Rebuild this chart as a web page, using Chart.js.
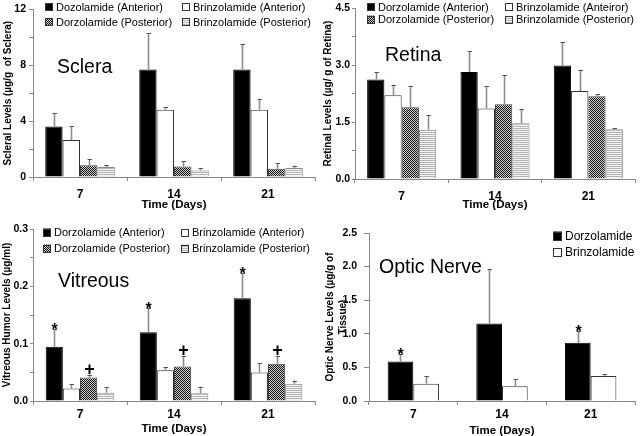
<!DOCTYPE html>
<html><head><meta charset="utf-8">
<script src="https://cdn.jsdelivr.net/npm/chart.js@4/dist/chart.umd.min.js"></script>
<style>
html,body{margin:0;padding:0;background:#fff;}
body{width:640px;height:436px;overflow:hidden;position:relative;}
.p{position:absolute;}
</style></head><body>
<div class="p" style="left:0;top:0"><canvas id="c1" width="320" height="210"></canvas></div>
<div class="p" style="left:320px;top:0"><canvas id="c2" width="320" height="210"></canvas></div>
<div class="p" style="left:0;top:210px"><canvas id="c3" width="320" height="226"></canvas></div>
<div class="p" style="left:320px;top:210px"><canvas id="c4" width="320" height="226"></canvas></div>
<script>
// ---------- DATA ----------
const days = ['7', '14', '21'];

// Sclera (µg/g)
const scleraTitle = 'Sclera';
const scleraYTitle = 'Scleral Levels (µg/g  of Sclera)';
const scleraLabels = ['Dozolamide (Anterior)', 'Brinzolamide (Anterior)', 'Dorzolamide (Posterior)', 'Brinzolamide (Posterior)'];
const scleraDorzAnt = [3.62, 7.69, 7.70];
const scleraDorzAntErr = [0.97, 2.61, 1.85];
const scleraBrinzAnt = [2.64, 4.82, 4.82];
const scleraBrinzAntErr = [1.01, 0.17, 0.78];
const scleraDorzPost = [0.84, 0.75, 0.59];
const scleraDorzPostErr = [0.42, 0.40, 0.40];
const scleraBrinzPost = [0.72, 0.47, 0.64];
const scleraBrinzPostErr = [0.12, 0.17, 0.18];
const scleraTicks = ['0', '', '4', '', '8', '', '12'];

// Retina (µg/g)
const retinaTitle = 'Retina';
const retinaYTitle = 'Retinal Levels (µg/ g of Retina)';
const retinaLabels = ['Dorzolamide (Anterior)', 'Brinzolamide (Anteiror)', 'Dorzolamide (Posterior)', 'Brinzolamide (Posterior)'];
const retinaDorzAnt = [2.62, 2.82, 2.99];
const retinaDorzAntErr = [0.19, 0.55, 0.62];
const retinaBrinzAnt = [2.21, 1.86, 2.32];
const retinaBrinzAntErr = [0.28, 0.59, 0.56];
const retinaDorzPost = [1.89, 1.97, 2.18];
const retinaDorzPostErr = [0.55, 0.77, 0.05];
const retinaBrinzPost = [1.30, 1.47, 1.31];
const retinaBrinzPostErr = [0.38, 0.37, 0.03];
const retinaTicks = ['0.0', '', '1.5', '', '3.0', '', '4.5'];

// Vitreous (µg/ml)
const vitreousTitle = 'Vitreous';
const vitreousYTitle = 'Vitreous Humor Levels (µg/ml)';
const vitreousLabels = ['Dorzolamide (Anterior)', 'Brinzolamide (Anterior)', 'Dorzolamide (Posterior)', 'Brinzolamide (Posterior)'];
const vitreousDorzAnt = [0.0945, 0.120, 0.179];
const vitreousDorzAntErr = [0.0305, 0.043, 0.044];
const vitreousBrinzAnt = [0.0216, 0.0536, 0.0496];
const vitreousBrinzAntErr = [0.0074, 0.0054, 0.0164];
const vitreousDorzPost = [0.041, 0.060, 0.065];
const vitreousDorzPostErr = [0.005, 0.019, 0.014];
const vitreousBrinzPost = [0.0146, 0.0134, 0.030];
const vitreousBrinzPostErr = [0.0099, 0.0116, 0.0056];
const vitreousDorzAntMarks = ['*', '*', '*'];
const vitreousDorzPostMarks = ['+', '+', '+'];
const vitreousTicks = ['0.0', '', '0.1', '', '0.2', '', '0.3'];

// Optic nerve (µg/g of tissue)
const opticTitle = 'Optic Nerve';
const opticYTitle = ['Optic Nerve Levels (µg/g of', 'Tissue)'];
const opticLabels = ['Dorzolamide', 'Brinzolamide'];
const opticDorz = [0.587, 1.153, 0.865];
const opticDorzErr = [0.113, 0.81, 0.175];
const opticBrinz = [0.258, 0.219, 0.373];
const opticBrinzErr = [0.115, 0.104, 0.025];
const opticDorzMarks = ['*', '', '*'];
const opticTicks = ['0.0', '0.5', '1.0', '1.5', '2.0', '2.5'];

// ---------- STYLE HELPERS ----------
const FONT = "'Liberation Sans', Arial, sans-serif";

function patterns(ctx) {
  const t1 = document.createElement('canvas'); t1.width = 2; t1.height = 2;
  const a = t1.getContext('2d');
  a.fillStyle = '#d0d0d0'; a.fillRect(0, 0, 2, 2);
  a.fillStyle = '#111'; a.fillRect(0, 0, 1, 1); a.fillRect(1, 1, 1, 1);
  const t2 = document.createElement('canvas'); t2.width = 2; t2.height = 2;
  const b = t2.getContext('2d');
  b.fillStyle = '#f4f4f4'; b.fillRect(0, 0, 2, 2);
  b.fillStyle = '#b4b4b4'; b.fillRect(0, 0, 2, 1);
  return { check: ctx.createPattern(t1, 'repeat'), lines: ctx.createPattern(t2, 'repeat') };
}

const deco = {
  id: 'deco',
  afterDatasetsDraw(chart) {
    const ctx = chart.ctx, ys = chart.scales.y;
    chart.data.datasets.forEach((ds, i) => {
      const meta = chart.getDatasetMeta(i);
      meta.data.forEach((bar, j) => {
        const v = ds.data[j], e = ds.err[j];
        const yb = ys.getPixelForValue(v), yt = ys.getPixelForValue(v + e);
        const x = Math.round(bar.x) + 0.5;
        ctx.save();
        ctx.strokeStyle = '#8c8c8c'; ctx.lineWidth = 1.6;
        ctx.beginPath(); ctx.moveTo(x, yb); ctx.lineTo(x, yt); ctx.stroke();
        ctx.strokeStyle = '#555'; ctx.lineWidth = 1;
        ctx.beginPath(); ctx.moveTo(x - 2, Math.round(yt) + 0.5); ctx.lineTo(x + 2.5, Math.round(yt) + 0.5); ctx.stroke();
        const m = ds.marks ? ds.marks[j] : '';
        if (m) {
          ctx.fillStyle = '#000';
          ctx.textAlign = 'center'; ctx.textBaseline = 'alphabetic';
          if (m === '*') { ctx.font = 'bold 16px ' + FONT; ctx.fillText('*', x, yt + 6); }
          else { ctx.font = 'bold 18px ' + FONT; ctx.fillText('+', x, yt); }
        }
        ctx.restore();
      });
    });
  },
  afterDraw(chart) {
    const o = chart.options.plugins.deco, ctx = chart.ctx;
    ctx.save();
    ctx.fillStyle = '#000';
    ctx.font = '19.5px ' + FONT; ctx.textAlign = 'left'; ctx.textBaseline = 'alphabetic';
    ctx.fillText(o.title, o.tx, o.ty);
    ctx.font = o.lfont + 'px ' + FONT; ctx.textBaseline = 'middle';
    o.legend.forEach(it => {
      const ds = chart.data.datasets[it.i];
      const s = it.box;
      ctx.fillStyle = ds.backgroundColor;
      ctx.fillRect(it.x, it.y - s / 2, s, s);
      ctx.strokeStyle = '#333'; ctx.lineWidth = 1;
      ctx.strokeRect(it.x + 0.5, Math.round(it.y - s / 2) + 0.5, s - 1, s - 1);
      ctx.fillStyle = '#000';
      ctx.fillText(ds.label, it.x + s + 3, it.y + 0.5);
    });
    ctx.restore();
  }
};

function makeChart(id, cfg) {
  const canvas = document.getElementById(id);
  const ctx = canvas.getContext('2d');
  const pat = patterns(ctx);
  const styles = cfg.styles.map(s => s === 'check' ? pat.check : s === 'lines' ? pat.lines : s);
  const borders = cfg.borders;
  const datasets = cfg.series.map((d, i) => ({
    label: cfg.labels[i], data: d, err: cfg.errs[i], marks: cfg.marks ? cfg.marks[i] : null,
    backgroundColor: styles[i], borderColor: borders[i], borderWidth: 1,
    barPercentage: 1, categoryPercentage: cfg.cat
  }));
  return new Chart(canvas, {
    type: 'bar',
    data: { labels: days, datasets },
    plugins: [deco],
    options: {
      responsive: false, animation: false, devicePixelRatio: 1,
      layout: { padding: { left: 0, right: 5, top: cfg.top, bottom: 0 } },
      plugins: {
        legend: { display: false }, tooltip: { enabled: false },
        deco: { title: cfg.title, tx: cfg.tx, ty: cfg.ty, legend: cfg.legend, lfont: cfg.lfont }
      },
      scales: {
        x: {
          afterFit: s => { s.height = cfg.xh; },
          grid: { display: true, drawOnChartArea: false, drawTicks: true, tickLength: 4, color: '#888', offset: true },
          border: { color: '#888', width: 1 },
          ticks: { color: '#000', font: { family: FONT, size: 12, weight: 'bold' }, padding: cfg.xpad },
          title: { display: true, text: 'Time (Days)', color: '#000', font: { family: FONT, size: 11.5, weight: 'bold' }, padding: { top: 0, bottom: cfg.xtpad } }
        },
        y: {
          min: 0, max: cfg.max,
          afterFit: s => { s.width = cfg.yw; },
          afterBuildTicks: s => { s.ticks = cfg.tickVals.map(v => ({ value: v })); },
          grid: { display: true, drawOnChartArea: false, drawTicks: true, tickLength: cfg.tl, color: '#888' },
          border: { color: '#888', width: 1 },
          ticks: {
            color: '#000', font: { family: FONT, size: 10.5, weight: 'bold' }, padding: cfg.ypad,
            callback: (v, i) => cfg.ticks[i]
          },
          title: { display: true, text: cfg.ytitle, color: '#000', font: { family: FONT, size: 10, weight: 'bold', lineHeight: 1.3 }, padding: { top: cfg.ytpad, bottom: 0 } }
        }
      }
    }
  });
}

const four = ['#000', '#fff', 'check', 'lines'];
const fourB = ['#000', '#333', '#444', '#888'];

makeChart('c1', {
  title: scleraTitle, tx: 57, ty: 73, lfont: 11,
  labels: scleraLabels, ytitle: scleraYTitle,
  series: [scleraDorzAnt, scleraBrinzAnt, scleraDorzPost, scleraBrinzPost],
  errs: [scleraDorzAntErr, scleraBrinzAntErr, scleraDorzPostErr, scleraBrinzPostErr],
  styles: four, borders: fourB, cat: 0.74,
  max: 12, tickVals: [0, 2, 4, 6, 8, 10, 12], ticks: scleraTicks,
  top: 7, xh: 33, yw: 33, tl: 4, ypad: 3, xpad: 6.5, xtpad: -2, ytpad: 1.5,
  legend: [
    { i: 0, x: 45, y: 7, box: 8 }, { i: 1, x: 182, y: 7, box: 8 },
    { i: 2, x: 45, y: 22, box: 8 }, { i: 3, x: 182, y: 22, box: 8 }
  ]
});

makeChart('c2', {
  title: retinaTitle, tx: 65, ty: 61, lfont: 11,
  labels: retinaLabels, ytitle: retinaYTitle,
  series: [retinaDorzAnt, retinaBrinzAnt, retinaDorzPost, retinaBrinzPost],
  errs: [retinaDorzAntErr, retinaBrinzAntErr, retinaDorzPostErr, retinaBrinzPostErr],
  styles: four, borders: fourB, cat: 0.74,
  max: 4.5, tickVals: [0, 0.75, 1.5, 2.25, 3, 3.75, 4.5], ticks: retinaTicks,
  top: 7, xh: 31, yw: 35, tl: 3, ypad: 2, xpad: 6, xtpad: -2, ytpad: 1.5,
  legend: [
    { i: 0, x: 47, y: 7, box: 8 }, { i: 1, x: 185, y: 7, box: 8 },
    { i: 2, x: 47, y: 19.5, box: 8 }, { i: 3, x: 185, y: 19.5, box: 8 }
  ]
});

makeChart('c3', {
  title: vitreousTitle, tx: 58, ty: 77, lfont: 11,
  labels: vitreousLabels, ytitle: vitreousYTitle,
  series: [vitreousDorzAnt, vitreousBrinzAnt, vitreousDorzPost, vitreousBrinzPost],
  errs: [vitreousDorzAntErr, vitreousBrinzAntErr, vitreousDorzPostErr, vitreousBrinzPostErr],
  marks: [vitreousDorzAntMarks, null, vitreousDorzPostMarks, null],
  styles: four, borders: fourB, cat: 0.73,
  max: 0.3, tickVals: [0, 0.05, 0.1, 0.15, 0.2, 0.25, 0.3], ticks: vitreousTicks,
  top: 19, xh: 35, yw: 33, tl: 3, ypad: 2, xpad: 2, xtpad: 0, ytpad: 0.5,
  legend: [
    { i: 0, x: 43, y: 22.5, box: 8 }, { i: 1, x: 181, y: 22.5, box: 8 },
    { i: 2, x: 43, y: 38.5, box: 8 }, { i: 3, x: 181, y: 38.5, box: 8 }
  ]
});

makeChart('c4', {
  title: opticTitle, tx: 59, ty: 63, lfont: 12,
  labels: opticLabels, ytitle: opticYTitle,
  series: [opticDorz, opticBrinz],
  errs: [opticDorzErr, opticBrinzErr],
  marks: [opticDorzMarks, null],
  styles: ['#000', '#fff'], borders: ['#000', '#333'], cat: 0.58,
  max: 2.5, tickVals: [0, 0.5, 1, 1.5, 2, 2.5], ticks: opticTicks,
  top: 23, xh: 35, yw: 49, tl: 5, ypad: 7, xpad: 2, xtpad: -1.5, ytpad: 3.5,
  legend: [
    { i: 0, x: 233, y: 26, box: 9 }, { i: 1, x: 233, y: 42.5, box: 9 }
  ]
});
</script>
</body></html>
